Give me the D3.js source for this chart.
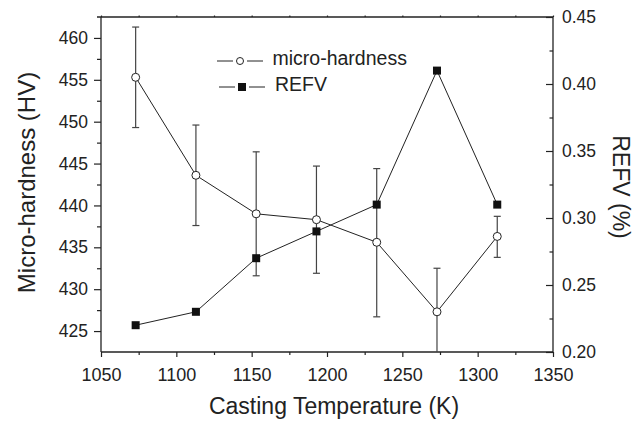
<!DOCTYPE html>
<html>
<head>
<meta charset="utf-8">
<script src="https://cdn.jsdelivr.net/npm/d3@7"></script>
<style>
  html, body { margin: 0; padding: 0; background: #fff; }
  svg { display: block; font-family: "Liberation Sans", Arial, Helvetica, sans-serif; }
</style>
</head>
<body>
<svg id="chart" width="640" height="423"></svg>
<script>
// Casting temperature (K)
const temperatures = [1073, 1113, 1153, 1193, 1233, 1273, 1313];
// Micro-hardness (HV) with error bar bounds
const hardness      = [455.3, 443.6, 439.0, 438.3, 435.6, 427.3, 436.3];
const hardnessLow   = [449.3, 437.6, 431.6, 431.9, 426.7, 422.0, 433.8];
const hardnessHigh  = [461.3, 449.6, 446.4, 444.7, 444.4, 432.5, 438.7];
// REFV (%)
const refv = [0.22, 0.23, 0.27, 0.29, 0.31, 0.41, 0.31];

const xTicks = [1050, 1100, 1150, 1200, 1250, 1300, 1350];
const yLeftTicks = [425, 430, 435, 440, 445, 450, 455, 460];
const yRightTicks = [0.20, 0.25, 0.30, 0.35, 0.40, 0.45];

const svg = d3.select("#chart");
const ink = "#222";

const plotLeft = 101, plotRight = 553, plotTop = 17, plotBottom = 352;

const x = d3.scaleLinear().domain([1050, 1350]).range([plotLeft, plotRight]);
const yL = d3.scaleLinear().domain([422.5, 462.5]).range([plotBottom, plotTop]);
const yR = d3.scaleLinear().domain([0.20, 0.45]).range([plotBottom, plotTop]);

// Axes
const bottomAxis = d3.axisBottom(x).tickValues(xTicks).tickSize(5).tickPadding(11).tickFormat(d3.format("d"));
const bottomMinor = d3.axisBottom(x).tickValues(d3.range(1075, 1350, 50)).tickSize(3).tickFormat("");
const topAxis = d3.axisTop(x).tickValues(d3.range(1050, 1351, 25)).tickSize(1.5).tickFormat("");
const leftAxis = d3.axisLeft(yL).tickValues(yLeftTicks).tickSize(7).tickPadding(6).tickFormat(d3.format("d"));
const leftMinor = d3.axisLeft(yL).tickValues(d3.range(427.5, 462.5, 5)).tickSize(4).tickFormat("");
const rightAxis = d3.axisRight(yR).tickValues(yRightTicks).tickSizeInner(-7).tickSizeOuter(0).tickPadding(8).tickFormat(d3.format(".2f"));
const rightMinor = d3.axisRight(yR).tickValues(d3.range(0.225, 0.45, 0.05)).tickSizeInner(-3.5).tickSizeOuter(0).tickFormat("");

function styleAxis(g, fontSize) {
  g.selectAll("path").attr("stroke", ink).attr("stroke-width", 1.3);
  g.selectAll("line").attr("stroke", ink).attr("stroke-width", 1.2);
  g.selectAll("text").attr("fill", ink).style("font-size", fontSize + "px")
    .style("font-family", "'Liberation Sans', Arial, sans-serif");
}

const gB = svg.append("g").attr("transform", `translate(0,${plotBottom})`).call(bottomAxis);
styleAxis(gB, 18);
gB.select(".domain").attr("d", `M${plotLeft},0H${plotRight}`);
const gBm = svg.append("g").attr("transform", `translate(0,${plotBottom})`).call(bottomMinor);
gBm.select(".domain").remove(); styleAxis(gBm, 10);

const gT = svg.append("g").attr("transform", `translate(0,${plotTop})`).call(topAxis);
styleAxis(gT, 10);
gT.select(".domain").attr("d", `M${plotLeft - 4},0H${plotRight}`);

const gL = svg.append("g").attr("transform", `translate(${plotLeft},0)`).call(leftAxis);
styleAxis(gL, 17.5);
gL.select(".domain").attr("d", `M0,${plotTop}V${plotBottom}`);
const gLm = svg.append("g").attr("transform", `translate(${plotLeft},0)`).call(leftMinor);
gLm.select(".domain").remove(); styleAxis(gLm, 10);

const gR = svg.append("g").attr("transform", `translate(${plotRight},0)`).call(rightAxis);
styleAxis(gR, 17.5);
gR.select(".domain").attr("d", `M0,${plotTop}V${plotBottom}`);
gR.selectAll(".tick text").attr("x", 9);
const gRm = svg.append("g").attr("transform", `translate(${plotRight},0)`).call(rightMinor);
gRm.select(".domain").remove(); styleAxis(gRm, 10);

// Axis titles
svg.append("text").attr("x", 334).attr("y", 413.5)
  .attr("text-anchor", "middle").attr("fill", ink).style("font-size", "23px")
  .text("Casting Temperature (K)");
svg.append("text").attr("transform", `translate(35,182.5) rotate(-90)`)
  .attr("text-anchor", "middle").attr("fill", ink).style("font-size", "24px")
  .text("Micro-hardness (HV)");
svg.append("text").attr("transform", `translate(613,187) rotate(90)`)
  .attr("text-anchor", "middle").attr("fill", ink).style("font-size", "23px")
  .text("REFV (%)");

// Plot clip
svg.append("defs").append("clipPath").attr("id", "plotClip")
  .append("rect").attr("x", plotLeft).attr("y", plotTop)
  .attr("width", plotRight - plotLeft).attr("height", plotBottom - plotTop);
const plot = svg.append("g").attr("clip-path", "url(#plotClip)");

const hData = temperatures.map((t, i) => ({ t, v: hardness[i], lo: hardnessLow[i], hi: hardnessHigh[i] }));
const rData = temperatures.map((t, i) => ({ t, v: refv[i] }));

// Error bars
const eb = plot.append("g").attr("stroke", "#444").attr("stroke-width", 1.2);
hData.forEach(d => {
  eb.append("line").attr("x1", x(d.t)).attr("x2", x(d.t)).attr("y1", yL(d.lo)).attr("y2", yL(d.hi));
  eb.append("line").attr("x1", x(d.t) - 3.5).attr("x2", x(d.t) + 3.5).attr("y1", yL(d.hi)).attr("y2", yL(d.hi));
  eb.append("line").attr("x1", x(d.t) - 3.5).attr("x2", x(d.t) + 3.5).attr("y1", yL(d.lo)).attr("y2", yL(d.lo));
});

// Lines
plot.append("path").datum(hData)
  .attr("d", d3.line().x(d => x(d.t)).y(d => yL(d.v)))
  .attr("fill", "none").attr("stroke", ink).attr("stroke-width", 1);
plot.append("path").datum(rData)
  .attr("d", d3.line().x(d => x(d.t)).y(d => yR(d.v)))
  .attr("fill", "none").attr("stroke", ink).attr("stroke-width", 1);

// Markers
plot.selectAll("circle.h").data(hData).join("circle")
  .attr("cx", d => x(d.t)).attr("cy", d => yL(d.v)).attr("r", 4)
  .attr("fill", "#fff").attr("stroke", ink).attr("stroke-width", 1);
plot.selectAll("rect.r").data(rData).join("rect")
  .attr("x", d => x(d.t) - 4).attr("y", d => yR(d.v) - 4).attr("width", 8).attr("height", 8)
  .attr("fill", "#111");

// Legend
const lg = svg.append("g").attr("stroke", ink).attr("stroke-width", 1);
lg.append("line").attr("x1", 217).attr("x2", 233).attr("y1", 61).attr("y2", 61);
lg.append("line").attr("x1", 247).attr("x2", 263).attr("y1", 61).attr("y2", 61);
lg.append("circle").attr("cx", 240).attr("cy", 61).attr("r", 3.5).attr("fill", "#fff");
lg.append("line").attr("x1", 219).attr("x2", 235).attr("y1", 87).attr("y2", 87);
lg.append("line").attr("x1", 249).attr("x2", 265).attr("y1", 87).attr("y2", 87);
svg.append("rect").attr("x", 238).attr("y", 83).attr("width", 8).attr("height", 8).attr("fill", "#111");
svg.append("text").attr("x", 272.5).attr("y", 64.5).attr("fill", ink).style("font-size", "19.5px").text("micro-hardness");
svg.append("text").attr("x", 275).attr("y", 91).attr("fill", ink).style("font-size", "19.5px").text("REFV");
</script>
</body>
</html>
